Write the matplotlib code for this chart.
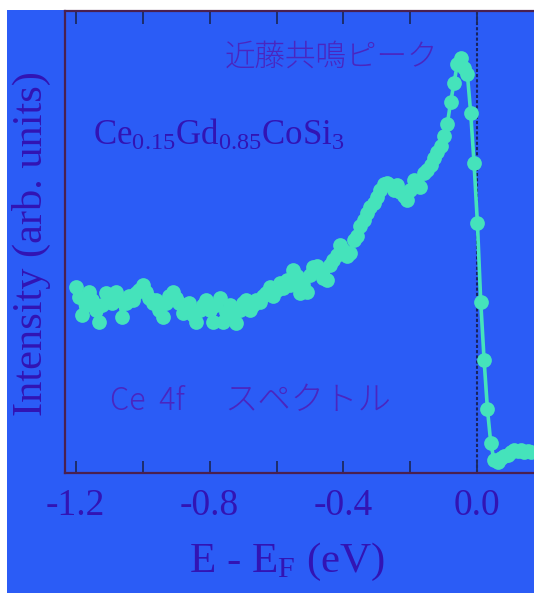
import matplotlib.pyplot as plt
from matplotlib.patches import Rectangle

# photoemission spectrum, Ce 4f (x: eV, y: arb. units)
energy = [-1.20, -1.19, -1.18, -1.17, -1.16, -1.15, -1.14, -1.13, -1.12, -1.11,
          -1.10, -1.09, -1.08, -1.07, -1.06, -1.05, -1.04, -1.03, -1.02, -1.01,
          -1.00, -0.99, -0.98, -0.97, -0.96, -0.95, -0.94, -0.93, -0.92, -0.91,
          -0.90, -0.89, -0.88, -0.87, -0.86, -0.85, -0.84, -0.83, -0.82, -0.81,
          -0.80, -0.79, -0.78, -0.77, -0.76, -0.75, -0.74, -0.73, -0.72, -0.71,
          -0.70, -0.69, -0.68, -0.67, -0.66, -0.65, -0.64, -0.63, -0.62, -0.61,
          -0.60, -0.59, -0.58, -0.57, -0.56, -0.55, -0.54, -0.53, -0.52, -0.51,
          -0.50, -0.49, -0.48, -0.47, -0.46, -0.45, -0.44, -0.43, -0.42, -0.41,
          -0.40, -0.39, -0.38, -0.37, -0.36, -0.35, -0.34, -0.33, -0.32, -0.31,
          -0.30, -0.29, -0.28, -0.27, -0.26, -0.25, -0.24, -0.23, -0.22, -0.21,
          -0.20, -0.19, -0.18, -0.17, -0.16, -0.15, -0.14, -0.13, -0.12, -0.11,
          -0.10, -0.09, -0.08, -0.07, -0.06, -0.05, -0.04, -0.03, -0.02, -0.01,
          0.00, 0.01, 0.02, 0.03, 0.04, 0.05, 0.06, 0.07, 0.08, 0.09,
          0.10, 0.11, 0.12, 0.13, 0.14, 0.15, 0.16]
intensity = [186, 176, 158, 168, 181, 173, 163, 151, 168, 180,
             175, 170, 181, 173, 156, 170, 177, 173, 180, 183,
             188, 181, 175, 170, 173, 163, 156, 170, 177, 181,
             175, 170, 160, 165, 170, 158, 151, 163, 168, 173,
             163, 151, 168, 175, 151, 161, 168, 158, 150, 163,
             170, 173, 163, 168, 173, 171, 177, 180, 186, 177,
             183, 190, 185, 193, 188, 203, 197, 180, 188, 181,
             198, 206, 207, 201, 195, 193, 208, 213, 218, 228,
             223, 217, 220, 233, 237, 247, 253, 260, 266, 270,
             276, 283, 289, 290, 288, 283, 288, 281, 277, 273,
             283, 293, 290, 286, 300, 303, 308, 315, 321, 327,
             337, 349, 371, 390, 409, 415, 405, 399, 360, 310,
             250, 171, 113, 64, 30, 13, 11, 15, 17, 18,
             21, 23, 22, 23, 21, 22, 21]

tick_pos = [-1.2, -0.8, -0.4, 0.0]
tick_labels = ['-1.2', '-0.8', '-0.4', '0.0']
minor_pos = [-1.0, -0.6, -0.2]

bg = '#2b5cf6'
teal = '#45e3bb'
ink = '#3214b4'
ink2 = '#4a26c0'

plt.rcParams['mathtext.fontset'] = 'custom'
plt.rcParams['mathtext.rm'] = 'Liberation Serif'
plt.rcParams['mathtext.it'] = 'Liberation Serif'

fig = plt.figure(figsize=(5.34, 5.93), dpi=100, facecolor='white')
fig.patches.append(Rectangle((7 / 534, 0), 1, 583 / 593, transform=fig.transFigure,
                             facecolor=bg, edgecolor='none', zorder=-10))

ax = fig.add_axes([65.4 / 534, 0.2017, 1 - 65.4 / 534, 0.7794])
ax.set_facecolor(bg)
ax.set_xlim(-1.2305, 0.169)
ax.set_ylim(0, 462)

ax.axvline(0, color='#182460', lw=1.5, ls=(0, (1.5, 1)), zorder=1)
ax.plot(energy, intensity, color=teal, lw=2.6, marker='o', markersize=10.6,
        markeredgewidth=0, zorder=2)

ax.set_xticks(tick_pos)
ax.set_xticklabels(tick_labels, family='Liberation Serif', fontsize=27, color=ink)
ax.set_xticks(minor_pos, minor=True)
ax.set_yticks([])
ax.tick_params(axis='x', which='both', direction='in', length=9, width=1.3,
               color='#1c2a60', top=True, pad=11)

for side in ['left', 'bottom', 'top']:
    ax.spines[side].set_color('#4a2050')
    ax.spines[side].set_linewidth(1.6)
ax.spines['right'].set_visible(False)

fig.text(287 / 534, 21 / 593, r'E - E$_{\mathrm{F}}$ (eV)', family='Liberation Serif',
         fontsize=31, color=ink, ha='center', va='baseline')
fig.text(31 / 534, 1 - 243.5 / 593, 'Intensity (arb. units)', family='Liberation Serif',
         fontsize=30.5, color=ink, rotation=90, ha='center', va='center')

ax.text(331, 593 - 57, '近藤共鳴ピーク', transform=None, fontsize=22, color=ink2,
        family=['Noto Sans CJK JP', 'DejaVu Sans'], fontweight='light',
        ha='center', va='center')
ax.text(-1.1475, 328, r'Ce$_{0.15}$Gd$_{0.85}$CoSi$_{3}$', family='Liberation Serif',
        fontsize=25, color=ink, ha='left', va='baseline')
ax.text(-1.097, 63, 'Ce  4f', family=['Noto Sans CJK JP', 'DejaVu Sans'],
        fontsize=22, color=ink2, fontweight='light', ha='left', va='baseline')
ax.text(-0.755, 63, 'スペクトル', family=['Noto Sans CJK JP', 'DejaVu Sans'],
        fontsize=24, color=ink2, fontweight='light', ha='left', va='baseline')

fig.savefig('out.png', dpi=100, facecolor=fig.get_facecolor())
